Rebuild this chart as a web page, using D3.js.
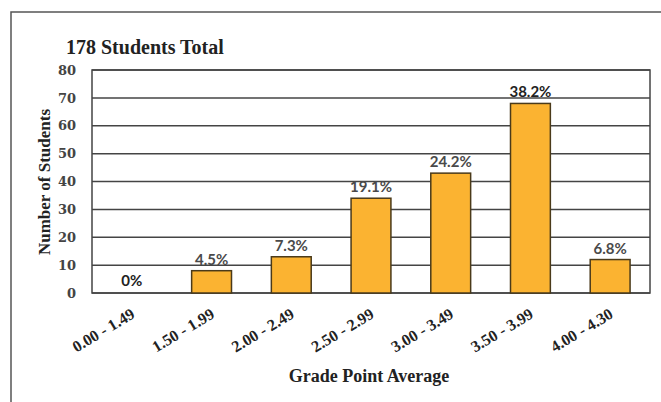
<!DOCTYPE html>
<html>
<head>
<meta charset="utf-8">
<script src="https://cdn.jsdelivr.net/npm/d3@7/dist/d3.min.js"></script>
<style>
  body { margin: 0; background: #fff; }
  svg { display: block; }
</style>
</head>
<body>
<div id="chart"></div>
<script>
var width = 661,
height = 402;

// data
var ranges = ["0.00 - 1.49", "1.50 - 1.99", "2.00 - 2.49", "2.50 - 2.99", "3.00 - 3.49", "3.50 - 3.99", "4.00 - 4.30"];
var students = [0, 8, 13, 34, 43, 68, 12];
var percents = ["0%", "4.5%", "7.3%", "19.1%", "24.2%", "38.2%", "6.8%"];
var yTicks = [0, 10, 20, 30, 40, 50, 60, 70, 80];

var plot = {left: 92, top: 70, right: 650, bottom: 293};

var svg = d3.select('#chart').
append('svg').
attr('width', width).
attr('height', height);

// outer frame of the scanned page
svg.append('path').
attr('d', 'M11,' + height + ' L11,12 L' + width + ',12').
attr('fill', 'none').
attr('stroke', '#555').
attr('stroke-width', 1.5);

var xScale = d3.scaleBand().
domain(ranges).
range([plot.left, plot.right]).
paddingInner(0.5).
paddingOuter(0.25);

var yScale = d3.scaleLinear().
domain([0, 80]).
range([plot.bottom, plot.top]);

// gridlines
svg.append('g').
selectAll('line').
data(yTicks).
enter().
append('line').
attr('x1', plot.left).
attr('x2', plot.right).
attr('y1', d => yScale(d)).
attr('y2', d => yScale(d)).
attr('stroke', '#444').
attr('stroke-width', 1.5);

// plot border
svg.append('rect').
attr('x', plot.left).
attr('y', plot.top).
attr('width', plot.right - plot.left).
attr('height', plot.bottom - plot.top).
attr('fill', 'none').
attr('stroke', '#444').
attr('stroke-width', 1.5);

// bars
svg.selectAll('rect.bar').
data(students).
enter().
append('rect').
attr('class', 'bar').
attr('x', (d, i) => xScale(ranges[i])).
attr('y', d => yScale(d)).
attr('width', xScale.bandwidth()).
attr('height', d => plot.bottom - yScale(d)).
attr('fill', d => d > 0 ? '#FBB331' : 'none').
attr('stroke', d => d > 0 ? '#4a3a1a' : 'none').
attr('stroke-width', 1.5);

// percent labels
svg.selectAll('text.pct').
data(students).
enter().
append('text').
attr('class', 'pct').
attr('x', (d, i) => xScale(ranges[i]) + xScale.bandwidth() / 2).
attr('y', d => d > 0 ? yScale(d) - 6 : yScale(0) - 7).
attr('text-anchor', 'middle').
style('font-family', 'Lato, sans-serif').
style('font-weight', 'bold').
style('font-size', '15px').
style('fill', (d, i) => i == 0 || i == 5 ? '#222' : '#4a4a4a').
text((d, i) => percents[i]);

// y axis tick labels
var yAxis = d3.axisLeft(yScale).
tickValues(yTicks).
tickSize(0).
tickPadding(16);

var gy = svg.append('g').
attr('id', 'y-axis').
attr('transform', 'translate(' + plot.left + ',0)').
call(yAxis);
gy.select('.domain').remove();
gy.selectAll('text').
style('font-family', '"DejaVu Serif", serif').
style('font-weight', 'bold').
style('font-size', '13px').
style('fill', '#444');

// x axis tick labels, rotated
var xAxis = d3.axisBottom(xScale).tickSize(0);
var gx = svg.append('g').
attr('id', 'x-axis').
attr('transform', 'translate(0,' + plot.bottom + ')').
call(xAxis);
gx.select('.domain').remove();
gx.selectAll('text').
attr('text-anchor', 'end').
attr('x', 0).
attr('y', 0).
attr('dy', 0).
attr('transform', 'translate(4,24) rotate(-31)').
style('font-family', '"Liberation Serif", serif').
style('font-weight', 'bold').
style('font-size', '16px').
style('fill', '#222');

// titles
svg.append('text').
attr('x', 66).
attr('y', 54).
style('font-family', '"Liberation Serif", serif').
style('font-weight', 'bold').
style('font-size', '20px').
style('fill', '#222').
text('178 Students Total');

svg.append('text').
attr('transform', 'translate(50,182) rotate(-90)').
attr('text-anchor', 'middle').
style('font-family', '"Liberation Serif", serif').
style('font-weight', 'bold').
style('font-size', '17px').
style('fill', '#222').
text('Number of Students');

svg.append('text').
attr('x', 369).
attr('y', 382).
attr('text-anchor', 'middle').
style('font-family', '"Liberation Serif", serif').
style('font-weight', 'bold').
style('font-size', '18px').
style('fill', '#222').
text('Grade Point Average');
</script>
</body>
</html>
